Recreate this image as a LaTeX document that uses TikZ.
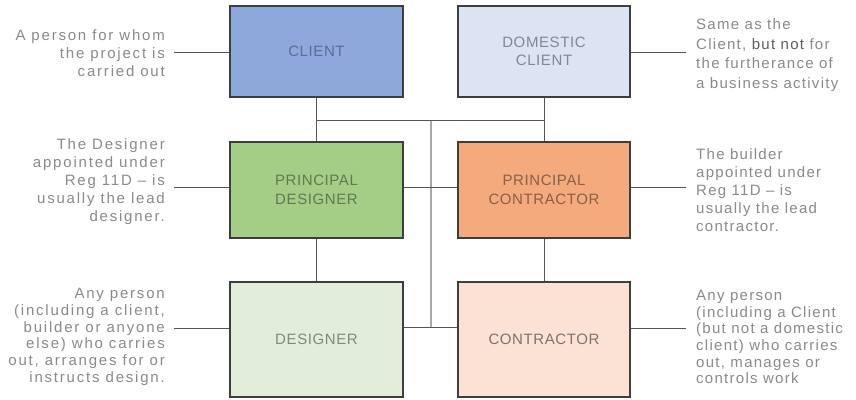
\documentclass[tikz,border=0pt]{standalone}
\usepackage{fontspec}
\newfontfamily\notefont{Liberation Sans}[LetterSpace=12]
\newfontfamily\notefontr{Liberation Sans}[LetterSpace=8.5]
\newfontfamily\boxfont{Liberation Sans}[LetterSpace=4]

\definecolor{noteink}{HTML}{8A8A8A}
\definecolor{noteinkdark}{HTML}{5E5E5E}
\definecolor{edge}{HTML}{3E3E3E}
\definecolor{wire}{HTML}{555555}
\definecolor{spine}{HTML}{A8A8A8}

\definecolor{clientfill}{HTML}{8EA8DC}
\definecolor{clientink}{HTML}{5B6E8F}
\definecolor{domfill}{HTML}{DCE4F4}
\definecolor{domink}{HTML}{7F8898}
\definecolor{pdfill}{HTML}{A4CD86}
\definecolor{pdink}{HTML}{5F7A52}
\definecolor{pcfill}{HTML}{F4AA7C}
\definecolor{pcink}{HTML}{86604C}
\definecolor{desfill}{HTML}{E2EED9}
\definecolor{desink}{HTML}{83887E}
\definecolor{confill}{HTML}{FBE2D4}
\definecolor{conink}{HTML}{7B7370}

\tikzset{
  rolebox/.style={draw=edge, line width=1.5pt, inner sep=0pt,
    minimum width=173pt, align=center,
    font=\boxfont\fontsize{15}{18.5}\selectfont},
  notetext/.style={inner sep=0pt, text=noteink},
  leftnote/.style={notetext, anchor=east, align=right,
    font=\notefont\fontsize{15}{18}\selectfont},
  rightnote/.style={notetext, anchor=west, align=left,
    font=\notefontr\fontsize{15}{18}\selectfont},
  lefttight/.style={font=\notefont\fontsize{15}{16.7}\selectfont},
  righttight/.style={font=\notefontr\fontsize{15}{16.7}\selectfont},
  rightloose/.style={font=\notefontr\fontsize{15}{19.5}\selectfont},
  wireline/.style={draw=wire, line width=1pt},
  spineline/.style={draw=spine, line width=1.6pt}
}

\begin{document}
\begin{tikzpicture}[x=1pt,y=-1pt]
\useasboundingbox[fill=white] (0,0) rectangle (856,399);

% role boxes
\node[rolebox, fill=clientfill, text=clientink, minimum height=91pt] (client) at (316.5,51.5) {CLIENT};
\node[rolebox, fill=domfill, text=domink, minimum height=91pt, minimum width=172pt] (dom) at (544,51.5) {DOMESTIC\\CLIENT};
\node[rolebox, fill=pdfill, text=pdink, minimum height=96pt] (pd) at (316.5,190) {PRINCIPAL\\DESIGNER};
\node[rolebox, fill=pcfill, text=pcink, minimum height=96pt, minimum width=172pt] (pc) at (544,190) {PRINCIPAL\\CONTRACTOR};
\node[rolebox, fill=desfill, text=desink, minimum height=115pt] (des) at (316.5,339.5) {DESIGNER};
\node[rolebox, fill=confill, text=conink, minimum height=115pt, minimum width=172pt] (con) at (544,339.5) {CONTRACTOR};

% descriptions
\node[leftnote] (clientnote) at (165,53) {A person for whom\\the project is\\carried out};
\node[rightnote, rightloose] (domnote) at (696,55) {Same as the\\Client, {\color{noteinkdark}but not} for\\the furtherance of\\a business activity};
\node[leftnote] (pdnote) at (165,182) {The Designer\\appointed under\\Reg 11D – is\\usually the lead\\designer.};
\node[rightnote] (pcnote) at (696,190) {The builder\\appointed under\\Reg 11D – is\\usually the lead\\contractor.};
\node[leftnote, lefttight] (desnote) at (165,337) {Any person\\(including a client,\\builder or anyone\\else) who carries\\out, arranges for or\\instructs design.};
\node[rightnote, righttight] (connote) at (696,337) {Any person\\(including a Client\\(but not a domestic\\client) who carries\\out, manages or\\controls work};

% leader lines from descriptions to boxes
\coordinate (clientlead) at (174,52);
\coordinate (pdlead) at (174,187);
\coordinate (deslead) at (174,328);
\coordinate (domlead) at (686,52);
\coordinate (pclead) at (686,187);
\coordinate (conlead) at (686,328);
\draw[wireline] (clientlead) -- (client.west |- clientlead);
\draw[wireline] (pdlead) -- (pd.west |- pdlead);
\draw[wireline] (deslead) -- (des.west |- deslead);
\draw[wireline] (domlead) -- (dom.east |- domlead);
\draw[wireline] (pclead) -- (pc.east |- pclead);
\draw[wireline] (conlead) -- (con.east |- conlead);

% central spine and its junctions
\coordinate (busL) at (client.south |- 0,120);
\coordinate (busR) at (dom.south |- 0,120);
\coordinate (spinetop) at (431,120);
\coordinate (spinebot) at (431,327);
\draw[spineline] (spinetop) -- (spinebot);
\draw[wireline] (busL) -- (busR);
\draw[wireline] (client.south) -- (pd.north);
\draw[wireline] (dom.south) -- (pc.north);
\draw[wireline] (pd.south) -- (des.north);
\draw[wireline] (pc.south) -- (con.north);
\draw[wireline] (pd.east |- 0,187) -- (pc.west |- 0,187);
\draw[wireline] (des.east |- 0,327) -- (con.west |- 0,327);
\end{tikzpicture}
\end{document}
